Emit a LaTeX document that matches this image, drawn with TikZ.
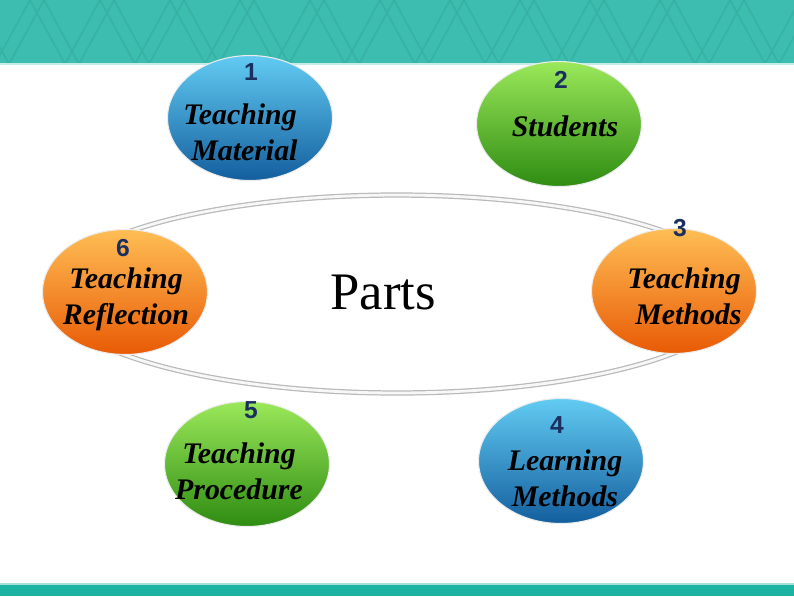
\documentclass[tikz,border=0pt]{standalone}
\usepackage{fontspec}
\setmainfont{Liberation Serif}
\newfontfamily\numfont{Liberation Sans}
\usetikzlibrary{shapes.geometric}
\definecolor{bannerteal}{HTML}{3DBDAF}
\definecolor{zigteal}{HTML}{37B3A5}
\definecolor{bandteal}{HTML}{1DB3A2}
\definecolor{numnavy}{HTML}{1B2F5E}
\definecolor{blueTop}{HTML}{62CBF2}
\definecolor{blueMid}{HTML}{1E8ACB}
\definecolor{blueBot}{HTML}{135E9E}
\definecolor{greenTop}{HTML}{9BE85A}
\definecolor{greenMid}{HTML}{4DBA1E}
\definecolor{greenBot}{HTML}{2E8C12}
\definecolor{orangeTop}{HTML}{FFBE55}
\definecolor{orangeMid}{HTML}{FF8C14}
\definecolor{orangeBot}{HTML}{E85A05}
\newcommand{\partsize}[0]{\fontsize{17}{20.5}\selectfont}

\begin{document}
\begin{tikzpicture}[x=0.02cm, y=-0.02cm]
  \tikzset{ball/.style={ellipse,minimum width=3.3cm,minimum height=2.5cm,
      draw=white!85!gray,line width=0.6pt},
    blueball/.style={ball,top color=blueTop,middle color=blueMid,bottom color=blueBot},
    greenball/.style={ball,top color=greenTop,middle color=greenMid,bottom color=greenBot},
    orangeball/.style={ball,top color=orangeTop,middle color=orangeMid,bottom color=orangeBot},
    parttext/.style={align=center,font=\partsize\bfseries\itshape},
    partnum/.style={font=\numfont\fontsize{14}{14}\selectfont\bfseries,text=numnavy},
    zig/.style={zigteal,line width=1pt}}
  \useasboundingbox (0,0) rectangle (794,596);
  % banner and bottom band
  \fill[bannerteal] (0,0) rectangle (794,64);
  \begin{scope}
    \clip (0,0) rectangle (794,63);
    \foreach \s in {0,14}
      \draw[zig] (-40+\s,0) \foreach \k in {0,...,12} {-- ++(35,64) -- ++(35,-64)};
  \end{scope}
  \draw[white!70!bannerteal,line width=1pt] (0,64) -- (794,64);
  \fill[bandteal] (0,584) rectangle (794,596);
  \draw[white!60!bandteal,line width=0.8pt] (0,584) -- (794,584);
  % the ring
  \node[ellipse,minimum width=13.8cm,minimum height=3.96cm,draw=gray!55,
    line width=0.7pt,double=white!94!gray,double distance=1.6pt] (ring) at (397,294) {};
  \node[font=\fontsize{30}{30}\selectfont] (parts) at (383,292) {Parts};
  % the six parts
  \node[blueball] (material) at (250,118) {};
  \node[greenball] (students) at (559,124) {};
  \node[orangeball] (methods) at (674,291) {};
  \node[blueball] (learning) at (561,461) {};
  \node[greenball] (procedure) at (247,464) {};
  \node[orangeball] (reflection) at (125,292) {};
  \node[parttext] at (240,132) {Teaching\\\hspace*{5pt}Material};
  \node[parttext] at (565,126) {Students};
  \node[parttext] at (684,296) {Teaching\\\hspace*{5pt}Methods};
  \node[parttext] at (565,478) {Learning\\Methods};
  \node[parttext] at (239,471) {Teaching\\Procedure};
  \node[parttext] at (126,299) {Teaching\\Reflection};
  \node[partnum] at (251,72) {1};
  \node[partnum] at (561,80) {2};
  \node[partnum] at (680,228) {3};
  \node[partnum] at (557,425) {4};
  \node[partnum] at (251,410) {5};
  \node[partnum] at (123,248) {6};
\end{tikzpicture}
\end{document}
